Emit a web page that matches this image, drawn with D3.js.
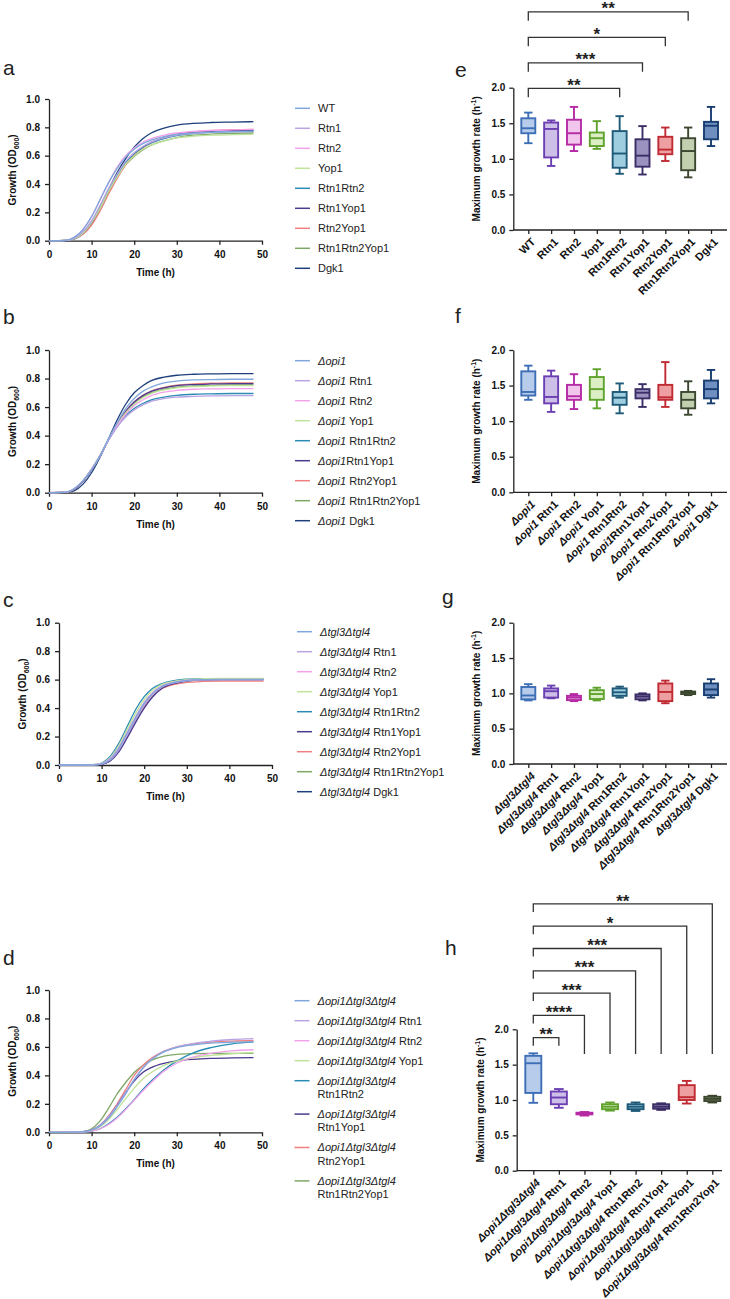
<!DOCTYPE html>
<html>
<head>
<meta charset="utf-8">
<script src="https://cdnjs.cloudflare.com/ajax/libs/d3/7.8.5/d3.min.js"></script>
<style>
body { margin: 0; background: #fff; }
svg { font-family: "Liberation Sans", Arial, sans-serif; }
.axis path, .axis line { stroke: #222; stroke-width: 1.3px; }
.axis text { font-size: 10px; font-weight: bold; fill: #111; font-family: "Liberation Sans", Arial, sans-serif; }
.title { font-size: 10px; font-weight: bold; fill: #111; }
.leg { font-size: 11px; fill: #222; }
.letter { font-size: 21px; fill: #222; }
.xlab { font-size: 11px; font-weight: bold; fill: #111; }
.star { font-size: 17px; font-weight: bold; fill: #222; text-anchor: middle; }
</style>
</head>
<body>
<svg width="730" height="1299"></svg>
<script>
// time points (h) of the growth curves
const timeH = [0, 4, 6, 8, 10, 12, 14, 16, 18, 20, 22, 24, 27, 30, 34, 38, 43, 48];

// panel a: WT background
const growthA = [
  [0, 0.003, 0.025, 0.08, 0.17, 0.29, 0.41, 0.51, 0.59, 0.645, 0.685, 0.71, 0.735, 0.75, 0.76, 0.765, 0.77, 0.77],
  [0, 0.002, 0.018, 0.065, 0.14, 0.25, 0.37, 0.47, 0.56, 0.62, 0.665, 0.695, 0.725, 0.745, 0.758, 0.765, 0.77, 0.772],
  [0, 0.003, 0.025, 0.08, 0.17, 0.29, 0.41, 0.52, 0.60, 0.655, 0.695, 0.72, 0.745, 0.76, 0.772, 0.778, 0.782, 0.785],
  [0, 0.002, 0.015, 0.055, 0.13, 0.23, 0.35, 0.45, 0.54, 0.60, 0.645, 0.675, 0.705, 0.725, 0.738, 0.745, 0.748, 0.75],
  [0, 0.002, 0.016, 0.06, 0.135, 0.24, 0.36, 0.46, 0.55, 0.615, 0.66, 0.69, 0.72, 0.742, 0.757, 0.765, 0.77, 0.773],
  [0, 0.002, 0.015, 0.055, 0.13, 0.235, 0.355, 0.46, 0.55, 0.615, 0.66, 0.695, 0.725, 0.748, 0.762, 0.77, 0.776, 0.778],
  [0, 0.001, 0.012, 0.045, 0.11, 0.21, 0.33, 0.44, 0.535, 0.605, 0.655, 0.69, 0.725, 0.75, 0.768, 0.777, 0.783, 0.786],
  [0, 0.002, 0.014, 0.05, 0.12, 0.22, 0.34, 0.445, 0.535, 0.595, 0.64, 0.675, 0.705, 0.728, 0.745, 0.752, 0.757, 0.76],
  [0, 0.001, 0.012, 0.05, 0.12, 0.23, 0.36, 0.48, 0.58, 0.66, 0.72, 0.76, 0.795, 0.815, 0.828, 0.834, 0.837, 0.84]
];
// panel b: opi1 deletion
const growthB = [
  [0, 0.004, 0.03, 0.085, 0.16, 0.26, 0.38, 0.49, 0.59, 0.66, 0.71, 0.74, 0.77, 0.782, 0.79, 0.793, 0.795, 0.795],
  [0, 0.004, 0.03, 0.085, 0.165, 0.26, 0.37, 0.46, 0.53, 0.58, 0.615, 0.64, 0.66, 0.67, 0.675, 0.678, 0.68, 0.68],
  [0, 0.004, 0.03, 0.085, 0.165, 0.26, 0.37, 0.47, 0.55, 0.61, 0.65, 0.68, 0.705, 0.717, 0.725, 0.728, 0.73, 0.73],
  [0, 0.004, 0.03, 0.085, 0.165, 0.265, 0.375, 0.475, 0.56, 0.62, 0.665, 0.695, 0.72, 0.735, 0.744, 0.748, 0.75, 0.75],
  [0, 0.004, 0.03, 0.085, 0.165, 0.26, 0.37, 0.465, 0.54, 0.59, 0.625, 0.65, 0.67, 0.682, 0.69, 0.693, 0.695, 0.695],
  [0, 0.003, 0.025, 0.08, 0.16, 0.26, 0.375, 0.48, 0.57, 0.635, 0.68, 0.71, 0.735, 0.75, 0.758, 0.762, 0.765, 0.765],
  [0, 0.003, 0.025, 0.08, 0.16, 0.26, 0.375, 0.48, 0.57, 0.635, 0.68, 0.712, 0.738, 0.753, 0.762, 0.767, 0.77, 0.77],
  [0, 0.003, 0.025, 0.08, 0.16, 0.26, 0.372, 0.475, 0.56, 0.625, 0.67, 0.70, 0.725, 0.74, 0.748, 0.752, 0.755, 0.755],
  [0, 0.002, 0.015, 0.06, 0.14, 0.25, 0.38, 0.51, 0.62, 0.70, 0.75, 0.785, 0.81, 0.823, 0.83, 0.833, 0.835, 0.835]
];
// panel c: tgl3 tgl4 deletion
const growthC = [
  [0, 0, 0, 0.001, 0.008, 0.04, 0.115, 0.225, 0.335, 0.435, 0.505, 0.55, 0.58, 0.594, 0.6, 0.602, 0.602, 0.602],
  [0, 0, 0, 0.001, 0.007, 0.035, 0.105, 0.21, 0.32, 0.42, 0.495, 0.545, 0.577, 0.592, 0.599, 0.6, 0.6, 0.6],
  [0, 0, 0, 0.001, 0.009, 0.045, 0.12, 0.23, 0.34, 0.44, 0.51, 0.553, 0.582, 0.595, 0.6, 0.601, 0.601, 0.601],
  [0, 0, 0, 0.002, 0.011, 0.052, 0.135, 0.25, 0.365, 0.46, 0.525, 0.563, 0.588, 0.6, 0.606, 0.608, 0.608, 0.608],
  [0, 0, 0, 0.002, 0.014, 0.06, 0.15, 0.27, 0.39, 0.48, 0.54, 0.57, 0.593, 0.603, 0.607, 0.607, 0.607, 0.607],
  [0, 0, 0, 0.0005, 0.005, 0.028, 0.09, 0.19, 0.30, 0.40, 0.48, 0.535, 0.572, 0.59, 0.598, 0.6, 0.6, 0.6],
  [0, 0, 0, 0.001, 0.007, 0.035, 0.105, 0.21, 0.32, 0.415, 0.49, 0.535, 0.566, 0.58, 0.587, 0.59, 0.59, 0.59],
  [0, 0, 0, 0.001, 0.008, 0.042, 0.118, 0.225, 0.335, 0.432, 0.503, 0.548, 0.578, 0.592, 0.598, 0.6, 0.6, 0.6],
  [0, 0, 0, 0.001, 0.006, 0.032, 0.10, 0.205, 0.315, 0.415, 0.49, 0.54, 0.575, 0.591, 0.598, 0.6, 0.6, 0.6]
];
// panel d: opi1 tgl3 tgl4 deletion
const growthD = [
  [0, 0, 0.001, 0.004, 0.015, 0.045, 0.10, 0.18, 0.27, 0.37, 0.45, 0.51, 0.565, 0.595, 0.615, 0.627, 0.633, 0.635],
  [0, 0, 0.001, 0.004, 0.016, 0.05, 0.11, 0.19, 0.28, 0.37, 0.45, 0.51, 0.57, 0.60, 0.625, 0.64, 0.652, 0.658],
  [0, 0, 0, 0.002, 0.008, 0.025, 0.055, 0.10, 0.16, 0.225, 0.29, 0.35, 0.43, 0.485, 0.53, 0.555, 0.572, 0.58],
  [0, 0, 0.001, 0.003, 0.012, 0.04, 0.09, 0.16, 0.235, 0.31, 0.375, 0.42, 0.47, 0.50, 0.525, 0.54, 0.552, 0.56],
  [0, 0, 0, 0.002, 0.008, 0.025, 0.06, 0.105, 0.165, 0.23, 0.30, 0.36, 0.44, 0.50, 0.56, 0.595, 0.622, 0.635],
  [0, 0, 0.001, 0.004, 0.016, 0.05, 0.11, 0.19, 0.28, 0.36, 0.42, 0.455, 0.485, 0.502, 0.513, 0.519, 0.523, 0.525],
  [0, 0, 0.001, 0.004, 0.016, 0.05, 0.115, 0.20, 0.30, 0.40, 0.47, 0.52, 0.57, 0.60, 0.622, 0.634, 0.641, 0.645],
  [0, 0, 0.001, 0.005, 0.025, 0.08, 0.17, 0.27, 0.35, 0.42, 0.47, 0.505, 0.535, 0.548, 0.553, 0.555, 0.555, 0.555]
];

// legend labels: each entry is a list of lines, each line [italic part, plain part]
const legendA = [[["", "WT"]], [["", "Rtn1"]], [["", "Rtn2"]], [["", "Yop1"]], [["", "Rtn1Rtn2"]],
  [["", "Rtn1Yop1"]], [["", "Rtn2Yop1"]], [["", "Rtn1Rtn2Yop1"]], [["", "Dgk1"]]];
const legendB = [[["Δopi1", ""]], [["Δopi1", " Rtn1"]], [["Δopi1", " Rtn2"]], [["Δopi1", " Yop1"]],
  [["Δopi1", " Rtn1Rtn2"]], [["Δopi1", "Rtn1Yop1"]], [["Δopi1", " Rtn2Yop1"]], [["Δopi1", " Rtn1Rtn2Yop1"]], [["Δopi1", " Dgk1"]]];
const legendC = [[["Δtgl3Δtgl4", ""]], [["Δtgl3Δtgl4", " Rtn1"]], [["Δtgl3Δtgl4", " Rtn2"]], [["Δtgl3Δtgl4", " Yop1"]],
  [["Δtgl3Δtgl4", " Rtn1Rtn2"]], [["Δtgl3Δtgl4", " Rtn1Yop1"]], [["Δtgl3Δtgl4", " Rtn2Yop1"]],
  [["Δtgl3Δtgl4", " Rtn1Rtn2Yop1"]], [["Δtgl3Δtgl4", " Dgk1"]]];
const legendD = [[["Δopi1Δtgl3Δtgl4", ""]], [["Δopi1Δtgl3Δtgl4", " Rtn1"]], [["Δopi1Δtgl3Δtgl4", " Rtn2"]],
  [["Δopi1Δtgl3Δtgl4", " Yop1"]], [["Δopi1Δtgl3Δtgl4", ""], ["", "Rtn1Rtn2"]],
  [["Δopi1Δtgl3Δtgl4", ""], ["", "Rtn1Yop1"]], [["Δopi1Δtgl3Δtgl4", ""], ["", "Rtn2Yop1"]],
  [["Δopi1Δtgl3Δtgl4", ""], ["", "Rtn1Rtn2Yop1"]]];

// box plot categories [italic, plain]
const catsE = [["", "WT"], ["", "Rtn1"], ["", "Rtn2"], ["", "Yop1"], ["", "Rtn1Rtn2"], ["", "Rtn1Yop1"],
  ["", "Rtn2Yop1"], ["", "Rtn1Rtn2Yop1"], ["", "Dgk1"]];
const catsF = [["Δopi1", ""], ["Δopi1", " Rtn1"], ["Δopi1", " Rtn2"], ["Δopi1", " Yop1"], ["Δopi1", " Rtn1Rtn2"],
  ["Δopi1", "Rtn1Yop1"], ["Δopi1", " Rtn2Yop1"], ["Δopi1", " Rtn1Rtn2Yop1"], ["Δopi1", " Dgk1"]];
const catsG = [["Δtgl3Δtgl4", ""], ["Δtgl3Δtgl4", " Rtn1"], ["Δtgl3Δtgl4", " Rtn2"], ["Δtgl3Δtgl4", " Yop1"],
  ["Δtgl3Δtgl4", " Rtn1Rtn2"], ["Δtgl3Δtgl4", " Rtn1Yop1"], ["Δtgl3Δtgl4", " Rtn2Yop1"],
  ["Δtgl3Δtgl4", " Rtn1Rtn2Yop1"], ["Δtgl3Δtgl4", " Dgk1"]];
const catsH = [["Δopi1Δtgl3Δtgl4", ""], ["Δopi1Δtgl3Δtgl4", " Rtn1"], ["Δopi1Δtgl3Δtgl4", " Rtn2"],
  ["Δopi1Δtgl3Δtgl4", " Yop1"], ["Δopi1Δtgl3Δtgl4", " Rtn1Rtn2"], ["Δopi1Δtgl3Δtgl4", " Rtn1Yop1"],
  ["Δopi1Δtgl3Δtgl4", " Rtn2Yop1"], ["Δopi1Δtgl3Δtgl4", " Rtn1Rtn2Yop1"]];

// maximum growth rate: [whisker low, q1, median, q3, whisker high]
const boxE = [[1.22, 1.36, 1.43, 1.57, 1.65], [0.90, 1.02, 1.42, 1.51, 1.54], [1.11, 1.20, 1.36, 1.55, 1.73],
  [1.14, 1.18, 1.29, 1.37, 1.53], [0.79, 0.875, 1.075, 1.39, 1.60], [0.78, 0.89, 1.045, 1.275, 1.46],
  [0.97, 1.065, 1.13, 1.31, 1.44], [0.74, 0.84, 1.11, 1.29, 1.44], [1.18, 1.275, 1.465, 1.52, 1.73]];
const boxF = [[1.30, 1.36, 1.41, 1.70, 1.78], [1.13, 1.25, 1.34, 1.63, 1.71], [1.17, 1.30, 1.35, 1.51, 1.66],
  [1.18, 1.30, 1.45, 1.62, 1.73], [1.11, 1.23, 1.33, 1.41, 1.53], [1.20, 1.32, 1.40, 1.45, 1.52],
  [1.20, 1.30, 1.335, 1.51, 1.83], [1.09, 1.18, 1.30, 1.41, 1.56], [1.25, 1.32, 1.45, 1.57, 1.72]];
const boxG = [[0.90, 0.915, 0.97, 1.09, 1.13], [0.93, 0.94, 1.03, 1.07, 1.11], [0.89, 0.905, 0.94, 0.965, 0.99],
  [0.90, 0.92, 0.99, 1.045, 1.08], [0.94, 0.965, 1.015, 1.07, 1.095], [0.90, 0.915, 0.955, 0.985, 1.0],
  [0.86, 0.89, 1.02, 1.14, 1.18], [0.975, 0.99, 1.01, 1.025, 1.035], [0.94, 0.975, 1.055, 1.14, 1.20]];
const boxH = [[0.96, 1.10, 1.52, 1.625, 1.66], [0.89, 0.94, 1.035, 1.12, 1.155], [0.78, 0.797, 0.807, 0.82, 0.83],
  [0.85, 0.87, 0.905, 0.94, 0.965], [0.845, 0.87, 0.905, 0.94, 0.965], [0.86, 0.877, 0.906, 0.94, 0.953],
  [0.95, 1.0, 1.04, 1.21, 1.27], [0.965, 0.985, 1.015, 1.045, 1.06]];

// significance brackets (first group vs target index)
const bracketE = [4, 5, 6, 7];
const starsE = ["**", "***", "*", "**"];
const bracketH = [1, 2, 3, 4, 5, 6, 7];
const starsH = ["**", "****", "***", "***", "***", "*", "**"];

const xTicksGrowth = [0, 10, 20, 30, 40, 50];
const yTicksGrowth = [0, 0.2, 0.4, 0.6, 0.8, 1.0];
const yTicksRate = [0, 0.5, 1.0, 1.5, 2.0];

const lineColors = ["#7fa7dc", "#b9a3e3", "#f2a2ea", "#bfe39a", "#2a8bb5", "#4a3b8f", "#f08080", "#7ea865", "#1d3f7c"];
const boxStroke = ["#3d6fb6", "#6b3fb2", "#b52aa5", "#5fa22d", "#1e5a78", "#3b2d66", "#c02a32", "#3c4730", "#183d70"];
const boxFill = ["#b7cbea", "#cdbfe8", "#f2c6ec", "#dcefc4", "#9fcde0", "#9c92c0", "#ee9fa2", "#c3d0b0", "#6f8fc0"];

const svg = d3.select("svg");

function addParts(sel, parts) {
  if (parts[0]) sel.append("tspan").attr("font-style", "italic").text(parts[0]);
  if (parts[1]) sel.append("tspan").text(parts[1]);
}

function growthPanel(o) {
  const x = d3.scaleLinear().domain([0, 50]).range([o.left, o.left + 213]);
  const y = d3.scaleLinear().domain([0, 1]).range([o.bottom, o.top]);
  const g = svg.append("g");

  g.append("text").attr("class", "letter").attr("x", o.lx).attr("y", o.ly).text(o.letter);

  g.append("g").attr("class", "axis").attr("transform", `translate(0,${o.bottom})`)
    .call(d3.axisBottom(x).tickValues(xTicksGrowth).tickSize(4).tickSizeOuter(0).tickPadding(6));
  g.append("g").attr("class", "axis").attr("transform", `translate(${o.left},0)`)
    .call(d3.axisLeft(y).tickValues(yTicksGrowth).tickFormat(d3.format(".1f")).tickSize(4).tickSizeOuter(0).tickPadding(5));

  const line = d3.line().x((d, i) => x(timeH[i])).y(d => y(d)).curve(d3.curveMonotoneX);
  const series = o.series.map((s, i) => ({ s, i })).reverse();
  g.selectAll("path.curve").data(series).join("path")
    .attr("class", "curve")
    .attr("d", d => line(d.s))
    .attr("fill", "none")
    .attr("stroke", d => lineColors[d.i])
    .attr("stroke-width", 1.3);

  g.append("text").attr("class", "title").attr("text-anchor", "middle")
    .attr("x", x(25)).attr("y", o.bottom + 35).text("Time (h)");
  const yl = g.append("text").attr("class", "title").attr("text-anchor", "middle")
    .attr("transform", `translate(${o.left - 33},${(o.top + o.bottom) / 2}) rotate(-90)`);
  yl.append("tspan").text("Growth (OD");
  yl.append("tspan").attr("font-size", "7px").attr("dy", "2.5").text("600");
  yl.append("tspan").attr("dy", "-2.5").text(")");

  // legend
  let ly = o.legY;
  o.legend.forEach((entry, i) => {
    g.append("line").attr("x1", o.legX).attr("x2", o.legX + 15).attr("y1", ly).attr("y2", ly)
      .attr("stroke", lineColors[i]).attr("stroke-width", 1.5);
    entry.forEach((ln, k) => {
      const t = g.append("text").attr("class", "leg").attr("x", o.legX + 23).attr("y", ly + k * 13.4).attr("dy", "0.35em");
      addParts(t, ln);
    });
    ly += 20 + 13.4 * (entry.length - 1);
  });
}

function ratePanel(o) {
  const y = d3.scaleLinear().domain([0, 2]).range([o.bottom, o.top]);
  const x = d3.scalePoint().domain(d3.range(o.boxes.length)).range([o.x0, o.x1]);
  const g = svg.append("g");

  g.append("text").attr("class", "letter").attr("x", o.lx).attr("y", o.ly).text(o.letter);

  g.append("g").attr("class", "axis").attr("transform", `translate(${o.left},0)`)
    .call(d3.axisLeft(y).tickValues(yTicksRate).tickFormat(d3.format(".1f")).tickSize(4).tickSizeOuter(0).tickPadding(4));
  const xa = g.append("g").attr("class", "axis").attr("transform", `translate(0,${o.bottom})`)
    .call(d3.axisBottom(x).tickSize(4).tickFormat(""));
  xa.select(".domain").remove();
  xa.append("line").attr("x1", o.left).attr("x2", o.right).attr("stroke", "#222").attr("stroke-width", 1.3);

  o.cats.forEach((c, i) => {
    const t = g.append("text").attr("class", "xlab").attr("text-anchor", "end")
      .attr("transform", `translate(${x(i) + 2},${o.bottom + 7}) rotate(-45)`).attr("dy", "0.72em");
    addParts(t, c);
  });

  const yl = g.append("text").attr("class", "title").attr("text-anchor", "middle")
    .attr("transform", `translate(${o.left - 33},${(o.top + o.bottom) / 2}) rotate(-90)`);
  yl.append("tspan").text("Maximum growth rate (h");
  yl.append("tspan").attr("font-size", "7px").attr("dy", "-4").text("-1");
  yl.append("tspan").attr("dy", "4").text(")");

  const bw = o.bw, cw = bw * 0.6;
  o.boxes.forEach((b, i) => {
    const cx = x(i), col = boxStroke[i];
    const bg = g.append("g").attr("stroke", col).attr("stroke-width", 1.9);
    bg.append("line").attr("x1", cx).attr("x2", cx).attr("y1", y(b[0])).attr("y2", y(b[4]));
    bg.append("line").attr("x1", cx - cw / 2).attr("x2", cx + cw / 2).attr("y1", y(b[0])).attr("y2", y(b[0]));
    bg.append("line").attr("x1", cx - cw / 2).attr("x2", cx + cw / 2).attr("y1", y(b[4])).attr("y2", y(b[4]));
    bg.append("rect").attr("x", cx - bw / 2).attr("width", bw)
      .attr("y", y(b[3])).attr("height", Math.max(0.5, y(b[1]) - y(b[3])))
      .attr("fill", boxFill[i]);
    bg.append("line").attr("x1", cx - bw / 2).attr("x2", cx + bw / 2).attr("y1", y(b[2])).attr("y2", y(b[2]));
  });

  if (o.targets) {
    o.targets.forEach((t, i) => {
      const yt = y(2) + o.base - i * o.step;
      const x0 = x(0), x1 = x(t);
      const yr = o.rightTo && i > 0 ? y(o.rightTo) : yt + o.leg;
      g.append("path").attr("d", `M${x0},${yt + o.leg}V${yt}H${x1}V${yr}`)
        .attr("fill", "none").attr("stroke", "#333").attr("stroke-width", 1.3);
      g.append("text").attr("class", "star").attr("x", (x0 + x1) / 2).attr("y", yt + 2.6).text(o.stars[i]);
    });
  }
}

growthPanel({ letter: "a", lx: 3, ly: 75, left: 49, top: 99, bottom: 240.7, series: growthA,
  legend: legendA, legX: 295, legY: 108.3 });
growthPanel({ letter: "b", lx: 3, ly: 324, left: 49, top: 350, bottom: 492.7, series: growthB,
  legend: legendB, legX: 295, legY: 360.7 });
growthPanel({ letter: "c", lx: 3, ly: 607, left: 59, top: 622.7, bottom: 765, series: growthC,
  legend: legendC, legX: 297, legY: 631.7 });
growthPanel({ letter: "d", lx: 3, ly: 965, left: 49, top: 990, bottom: 1132.3, series: growthD,
  legend: legendD, legX: 294.5, legY: 1000.7 });

ratePanel({ letter: "e", lx: 455, ly: 77, left: 513.3, right: 727, x0: 528.3, x1: 711, top: 87.7, bottom: 230,
  boxes: boxE, cats: catsE, bw: 14, targets: bracketE, stars: starsE, base: 0.6, step: 25.5, leg: 9 });
ratePanel({ letter: "f", lx: 455, ly: 323, left: 513.3, right: 727, x0: 528.3, x1: 711, top: 350, bottom: 492.3,
  boxes: boxF, cats: catsF, bw: 14 });
ratePanel({ letter: "g", lx: 442, ly: 604, left: 513.3, right: 727, x0: 528.3, x1: 711, top: 622.7, bottom: 764,
  boxes: boxG, cats: catsG, bw: 14 });
ratePanel({ letter: "h", lx: 445, ly: 955, left: 516.7, right: 722, x0: 533.3, x1: 712.3, top: 1029.3, bottom: 1170.7,
  boxes: boxH, cats: catsH, bw: 16, targets: bracketH, stars: starsH, base: 8.4, step: 22.3, leg: 8, rightTo: 1.65 });
</script>
</body>
</html>
